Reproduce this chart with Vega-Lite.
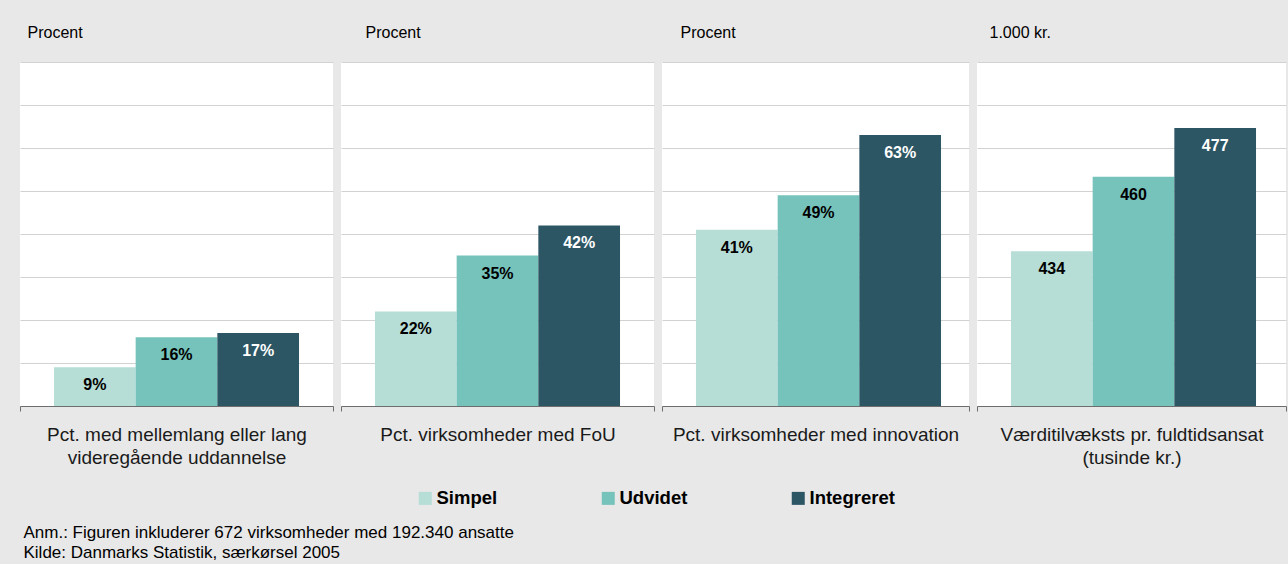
{
  "$schema": "https://vega.github.io/schema/vega-lite/v6.json",
  "background": "#e8e8e8",
  "padding": {"left": 19, "top": 25, "right": 3, "bottom": 10},
  "config": {
    "font": "Liberation Sans",
    "view": {"fill": "white", "stroke": null},
    "concat": {"spacing": 6}
  },
  "datasets": {
    "bars": [
      {"panel": 1, "cat": "Pct. med mellemlang eller lang|videregående uddannelse", "series": "Simpel", "value": 9, "label": "9%"},
      {"panel": 1, "cat": "Pct. med mellemlang eller lang|videregående uddannelse", "series": "Udvidet", "value": 16, "label": "16%"},
      {"panel": 1, "cat": "Pct. med mellemlang eller lang|videregående uddannelse", "series": "Integreret", "value": 17, "label": "17%"},
      {"panel": 2, "cat": "Pct. virksomheder med FoU", "series": "Simpel", "value": 22, "label": "22%"},
      {"panel": 2, "cat": "Pct. virksomheder med FoU", "series": "Udvidet", "value": 35, "label": "35%"},
      {"panel": 2, "cat": "Pct. virksomheder med FoU", "series": "Integreret", "value": 42, "label": "42%"},
      {"panel": 3, "cat": "Pct. virksomheder med innovation", "series": "Simpel", "value": 41, "label": "41%"},
      {"panel": 3, "cat": "Pct. virksomheder med innovation", "series": "Udvidet", "value": 49, "label": "49%"},
      {"panel": 3, "cat": "Pct. virksomheder med innovation", "series": "Integreret", "value": 63, "label": "63%"},
      {"panel": 4, "cat": "Værditilvæksts pr. fuldtidsansat|(tusinde kr.)", "series": "Simpel", "value": 434, "label": "434"},
      {"panel": 4, "cat": "Værditilvæksts pr. fuldtidsansat|(tusinde kr.)", "series": "Udvidet", "value": 460, "label": "460"},
      {"panel": 4, "cat": "Værditilvæksts pr. fuldtidsansat|(tusinde kr.)", "series": "Integreret", "value": 477, "label": "477"}
    ]
  },
  "data": {"name": "bars"},
  "title": {
    "text": ["Anm.: Figuren inkluderer 672 virksomheder med 192.340 ansatte", "Kilde: Danmarks Statistik,  særkørsel 2005"],
    "orient": "bottom",
    "anchor": "start",
    "fontSize": 17,
    "fontWeight": "normal",
    "color": "#000000",
    "lineHeight": 20,
    "offset": 17,
    "dx": 4
  },
  "resolve": {"scale": {"x": "independent", "y": "independent", "color": "shared"}},
  "hconcat": [
    {
      "width": 313, "height": 344,
      "title": {"text": "Procent", "anchor": "start", "dx": 8, "fontSize": 16, "fontWeight": "normal", "color": "#000000", "baseline": "alphabetic", "offset": 8},
      "transform": [{"filter": "datum.panel == 1"}],
      "encoding": {
        "x": {"field": "cat", "type": "nominal", "scale": {"paddingInner": 0, "paddingOuter": 0},
          "axis": {"title": null, "tickBand": "extent", "tickSize": 5, "tickColor": "#6d6d6d", "domainColor": "#6d6d6d", "labelAngle": 0, "labelFontSize": 19, "labelColor": "#1a1a1a", "labelPadding": 14, "labelLimit": 0, "labelLineHeight": 23, "labelExpr": "split(datum.label, '|')"}},
        "xOffset": {"field": "series", "type": "nominal", "sort": ["Simpel", "Udvidet", "Integreret"], "scale": {"paddingInner": 0, "paddingOuter": 0.416}},
        "y": {"field": "value", "type": "quantitative", "scale": {"domain": [0, 80]},
          "axis": {"title": null, "labels": false, "ticks": false, "domain": false, "grid": true, "gridColor": "#d2d2d2", "values": [0, 10, 20, 30, 40, 50, 60, 70, 80]}}
      },
      "layer": [
        {"mark": {"type": "bar", "clip": true}, "encoding": {"color": {"field": "series", "type": "nominal", "sort": ["Simpel", "Udvidet", "Integreret"], "scale": {"domain": ["Simpel", "Udvidet", "Integreret"], "range": ["#b6ddd6", "#76c3bc", "#2d5665"]},
          "legend": {"orient": "none", "direction": "horizontal", "legendX": 396, "legendY": 427, "title": null, "symbolType": "square", "symbolSize": 169, "symbolStrokeWidth": 0, "labelFontSize": 18.5, "labelFontWeight": "bold", "labelColor": "#000000", "columnPadding": 101, "labelOffset": 2}}}},
        {"mark": {"type": "text", "dy": 18, "fontWeight": "bold", "fontSize": 16}, "encoding": {"text": {"field": "label"}, "color": {"condition": {"test": "datum.series === 'Integreret'", "value": "#ffffff"}, "value": "#000000"}}}
      ]
    },
    {
      "width": 313, "height": 344,
      "title": {"text": "Procent", "anchor": "start", "dx": 25, "fontSize": 16, "fontWeight": "normal", "color": "#000000", "baseline": "alphabetic", "offset": 8},
      "transform": [{"filter": "datum.panel == 2"}],
      "encoding": {
        "x": {"field": "cat", "type": "nominal", "scale": {"paddingInner": 0, "paddingOuter": 0},
          "axis": {"title": null, "tickBand": "extent", "tickSize": 5, "tickColor": "#6d6d6d", "domainColor": "#6d6d6d", "labelAngle": 0, "labelFontSize": 19, "labelColor": "#1a1a1a", "labelPadding": 14, "labelLimit": 0, "labelLineHeight": 23, "labelExpr": "split(datum.label, '|')"}},
        "xOffset": {"field": "series", "type": "nominal", "sort": ["Simpel", "Udvidet", "Integreret"], "scale": {"paddingInner": 0, "paddingOuter": 0.416}},
        "y": {"field": "value", "type": "quantitative", "scale": {"domain": [0, 80]},
          "axis": {"title": null, "labels": false, "ticks": false, "domain": false, "grid": true, "gridColor": "#d2d2d2", "values": [0, 10, 20, 30, 40, 50, 60, 70, 80]}}
      },
      "layer": [
        {"mark": {"type": "bar", "clip": true}, "encoding": {"color": {"field": "series", "type": "nominal", "sort": ["Simpel", "Udvidet", "Integreret"], "scale": {"domain": ["Simpel", "Udvidet", "Integreret"], "range": ["#b6ddd6", "#76c3bc", "#2d5665"]},
          "legend": {"orient": "none", "direction": "horizontal", "legendX": 396, "legendY": 427, "title": null, "symbolType": "square", "symbolSize": 169, "symbolStrokeWidth": 0, "labelFontSize": 18.5, "labelFontWeight": "bold", "labelColor": "#000000", "columnPadding": 101, "labelOffset": 2}}}},
        {"mark": {"type": "text", "dy": 18, "fontWeight": "bold", "fontSize": 16}, "encoding": {"text": {"field": "label"}, "color": {"condition": {"test": "datum.series === 'Integreret'", "value": "#ffffff"}, "value": "#000000"}}}
      ]
    },
    {
      "width": 307, "height": 344,
      "title": {"text": "Procent", "anchor": "start", "dx": 19, "fontSize": 16, "fontWeight": "normal", "color": "#000000", "baseline": "alphabetic", "offset": 8},
      "transform": [{"filter": "datum.panel == 3"}],
      "encoding": {
        "x": {"field": "cat", "type": "nominal", "scale": {"paddingInner": 0, "paddingOuter": 0},
          "axis": {"title": null, "tickBand": "extent", "tickSize": 5, "tickColor": "#6d6d6d", "domainColor": "#6d6d6d", "labelAngle": 0, "labelFontSize": 19, "labelColor": "#1a1a1a", "labelPadding": 14, "labelLimit": 0, "labelLineHeight": 23, "labelExpr": "split(datum.label, '|')"}},
        "xOffset": {"field": "series", "type": "nominal", "sort": ["Simpel", "Udvidet", "Integreret"], "scale": {"paddingInner": 0, "paddingOuter": 0.35}},
        "y": {"field": "value", "type": "quantitative", "scale": {"domain": [0, 80]},
          "axis": {"title": null, "labels": false, "ticks": false, "domain": false, "grid": true, "gridColor": "#d2d2d2", "values": [0, 10, 20, 30, 40, 50, 60, 70, 80]}}
      },
      "layer": [
        {"mark": {"type": "bar", "clip": true}, "encoding": {"color": {"field": "series", "type": "nominal", "sort": ["Simpel", "Udvidet", "Integreret"], "scale": {"domain": ["Simpel", "Udvidet", "Integreret"], "range": ["#b6ddd6", "#76c3bc", "#2d5665"]},
          "legend": {"orient": "none", "direction": "horizontal", "legendX": 396, "legendY": 427, "title": null, "symbolType": "square", "symbolSize": 169, "symbolStrokeWidth": 0, "labelFontSize": 18.5, "labelFontWeight": "bold", "labelColor": "#000000", "columnPadding": 101, "labelOffset": 2}}}},
        {"mark": {"type": "text", "dy": 18, "fontWeight": "bold", "fontSize": 16}, "encoding": {"text": {"field": "label"}, "color": {"condition": {"test": "datum.series === 'Integreret'", "value": "#ffffff"}, "value": "#000000"}}}
      ]
    },
    {
      "width": 309, "height": 344,
      "title": {"text": "1.000 kr.", "anchor": "start", "dx": 13, "fontSize": 16, "fontWeight": "normal", "color": "#000000", "baseline": "alphabetic", "offset": 8},
      "transform": [{"filter": "datum.panel == 4"}],
      "encoding": {
        "x": {"field": "cat", "type": "nominal", "scale": {"paddingInner": 0, "paddingOuter": 0},
          "axis": {"title": null, "tickBand": "extent", "tickSize": 5, "tickColor": "#6d6d6d", "domainColor": "#6d6d6d", "labelAngle": 0, "labelFontSize": 19, "labelColor": "#1a1a1a", "labelPadding": 14, "labelLimit": 0, "labelLineHeight": 23, "labelExpr": "split(datum.label, '|')"}},
        "xOffset": {"field": "series", "type": "nominal", "sort": ["Simpel", "Udvidet", "Integreret"], "scale": {"paddingInner": 0, "paddingOuter": 0.416}},
        "y": {"field": "value", "type": "quantitative", "scale": {"domain": [380, 500], "zero": false},
          "axis": {"title": null, "labels": false, "ticks": false, "domain": false, "grid": true, "gridColor": "#d2d2d2", "values": [380, 395, 410, 425, 440, 455, 470, 485, 500]}}
      },
      "layer": [
        {"mark": {"type": "bar", "clip": true}, "encoding": {"color": {"field": "series", "type": "nominal", "sort": ["Simpel", "Udvidet", "Integreret"], "scale": {"domain": ["Simpel", "Udvidet", "Integreret"], "range": ["#b6ddd6", "#76c3bc", "#2d5665"]},
          "legend": {"orient": "none", "direction": "horizontal", "legendX": 396, "legendY": 427, "title": null, "symbolType": "square", "symbolSize": 169, "symbolStrokeWidth": 0, "labelFontSize": 18.5, "labelFontWeight": "bold", "labelColor": "#000000", "columnPadding": 101, "labelOffset": 2}}}},
        {"mark": {"type": "text", "dy": 18, "fontWeight": "bold", "fontSize": 16}, "encoding": {"text": {"field": "label"}, "color": {"condition": {"test": "datum.series === 'Integreret'", "value": "#ffffff"}, "value": "#000000"}}}
      ]
    }
  ]
}
